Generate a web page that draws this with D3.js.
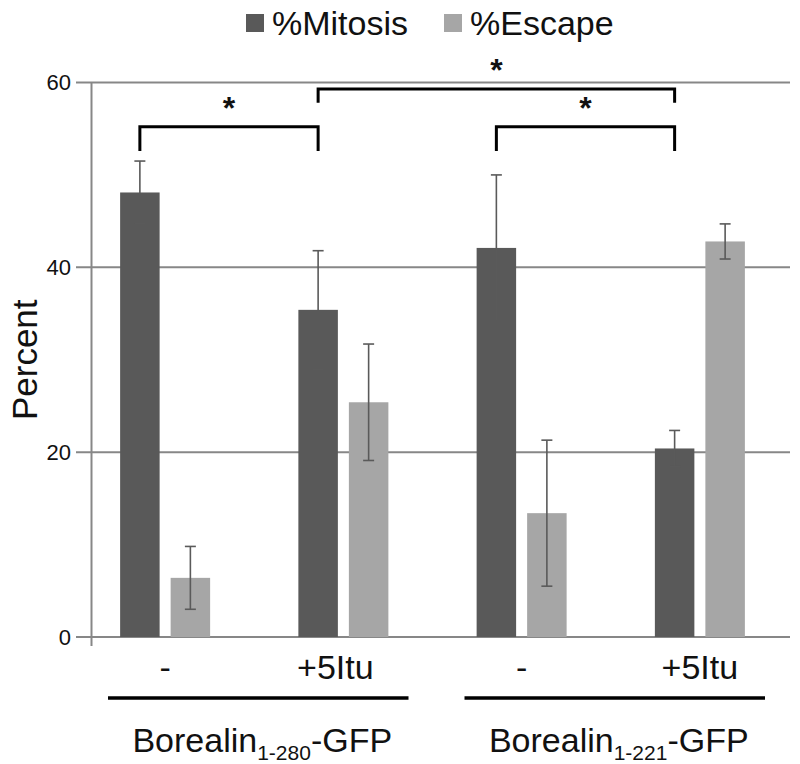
<!DOCTYPE html>
<html>
<head>
<meta charset="utf-8">
<script src="https://cdn.jsdelivr.net/npm/d3@7/dist/d3.min.js"></script>
<style>
  html, body { margin: 0; padding: 0; background: #fff; }
  text { font-family: "Liberation Sans", Arial, sans-serif; fill: #111; }
</style>
</head>
<body>
<svg id="chart" width="800" height="764"></svg>
<script>
// ---------- data ----------
const categories = ["-", "+5Itu", "-", "+5Itu"];
const constructs = [
  { name: "Borealin", sub: "1-280", suffix: "-GFP", from: 0, to: 1 },
  { name: "Borealin", sub: "1-221", suffix: "-GFP", from: 2, to: 3 }
];
const seriesNames = ["%Mitosis", "%Escape"];
const mitosis = [48.1, 35.4, 42.1, 20.4];
const mitosisErr = [3.4, 6.4, 7.9, 1.95];
const escape = [6.4, 25.4, 13.4, 42.8];
const escapeErr = [3.4, 6.3, 7.9, 1.9];
const yTicks = [0, 20, 40, 60];
// significance brackets between %Mitosis bars (category indices)
const brackets = [
  { a: 0, b: 1, label: "*", level: 0 },
  { a: 1, b: 3, label: "*", level: 1 },
  { a: 2, b: 3, label: "*", level: 0 }
];

// ---------- layout ----------
const colors = { "%Mitosis": "#595959", "%Escape": "#a6a6a6" };
const gridColor = "#878787";
const svg = d3.select("#chart");

const y = d3.scaleLinear().domain([0, 60]).range([637, 82.5]);
const x0 = d3.scaleBand().domain(d3.range(categories.length)).range([76, 789]).padding(0);
const x1 = d3.scaleBand().domain(seriesNames).range([-45, 45]).paddingInner(0.218);
const cx = i => x0(i) + x0.bandwidth() / 2;
const axisX = 91.5;

// gridlines + ticks (ticks merge with gridlines)
svg.append("g").selectAll("line").data(yTicks).join("line")
  .attr("x1", 76).attr("x2", 790)
  .attr("y1", d => y(d)).attr("y2", d => y(d))
  .attr("stroke", gridColor).attr("stroke-width", 2);

// y axis line
svg.append("line")
  .attr("x1", axisX).attr("x2", axisX)
  .attr("y1", y(60)).attr("y2", y(0) + 9)
  .attr("stroke", gridColor).attr("stroke-width", 2);

// y tick labels
svg.append("g").selectAll("text").data(yTicks).join("text")
  .attr("x", 71).attr("y", d => y(d))
  .attr("dy", "0.35em")
  .attr("text-anchor", "end")
  .attr("font-size", 22)
  .text(d => d);

// y title
svg.append("text")
  .attr("transform", `translate(37,${(y(0) + y(60)) / 2}) rotate(-90)`)
  .attr("text-anchor", "middle")
  .attr("font-size", 35)
  .text("Percent");

// bars
const rows = categories.map((c, i) => ([
  { s: "%Mitosis", v: mitosis[i], e: mitosisErr[i], i },
  { s: "%Escape", v: escape[i], e: escapeErr[i], i }
])).flat();

svg.append("g").selectAll("rect").data(rows).join("rect")
  .attr("x", d => cx(d.i) + x1(d.s))
  .attr("width", x1.bandwidth())
  .attr("y", d => y(d.v))
  .attr("height", d => y(0) - y(d.v))
  .attr("fill", d => colors[d.s]);

// error bars
const eb = svg.append("g").attr("stroke", "#5a5a5a").attr("stroke-width", 1.6);
rows.forEach(d => {
  const xm = cx(d.i) + x1(d.s) + x1.bandwidth() / 2;
  eb.append("line").attr("x1", xm).attr("x2", xm).attr("y1", y(d.v + d.e)).attr("y2", y(d.v - d.e));
  [d.v + d.e, d.v - d.e].forEach(v => {
    eb.append("line").attr("x1", xm - 5.5).attr("x2", xm + 5.5).attr("y1", y(v)).attr("y2", y(v));
  });
});

// significance brackets
const mitX = i => cx(i) + x1("%Mitosis") + x1.bandwidth() / 2;
const levelTop = [55.2, 59.3];
const levelEnd = [52.6, 57.8];
const bg = svg.append("g");
brackets.forEach(b => {
  const xa = mitX(b.a), xb = mitX(b.b);
  const yt = y(levelTop[b.level]), ye = y(levelEnd[b.level]);
  bg.append("path")
    .attr("d", `M${xa},${ye}V${yt}H${xb}V${ye}`)
    .attr("fill", "none").attr("stroke", "#000").attr("stroke-width", 3);
  bg.append("text")
    .attr("x", (xa + xb) / 2).attr("y", yt - 8)
    .attr("text-anchor", "middle")
    .attr("font-size", 32).attr("font-weight", "bold")
    .text(b.label);
});

// category labels
svg.append("g").selectAll("text").data(categories).join("text")
  .attr("x", (d, i) => cx(i) + (i === 1 ? -8 : 0)).attr("y", 679)
  .attr("text-anchor", "middle")
  .attr("font-size", 34)
  .text(d => d);

// construct underlines and labels
constructs.forEach(c => {
  const xa = x0(c.from) + 32, xb = x0(c.to) + x0.bandwidth() - 24;
  svg.append("line")
    .attr("x1", xa).attr("x2", xb).attr("y1", 698).attr("y2", 698)
    .attr("stroke", "#000").attr("stroke-width", 3.5);
  const t = svg.append("text")
    .attr("x", (xa + xb) / 2 + 4).attr("y", 752)
    .attr("text-anchor", "middle")
    .attr("font-size", 34);
  t.append("tspan").text(c.name);
  t.append("tspan").attr("font-size", 21).attr("dy", 8).text(c.sub);
  t.append("tspan").attr("dy", -8).text(c.suffix);
});

// legend
const lg = svg.append("g");
const legendX = [246, 444];
seriesNames.forEach((s, k) => {
  lg.append("rect").attr("x", legendX[k]).attr("y", 14).attr("width", 18).attr("height", 18).attr("fill", colors[s]);
  lg.append("text").attr("x", legendX[k] + 26).attr("y", 35).attr("font-size", 34).text(s);
});
</script>
</body>
</html>
